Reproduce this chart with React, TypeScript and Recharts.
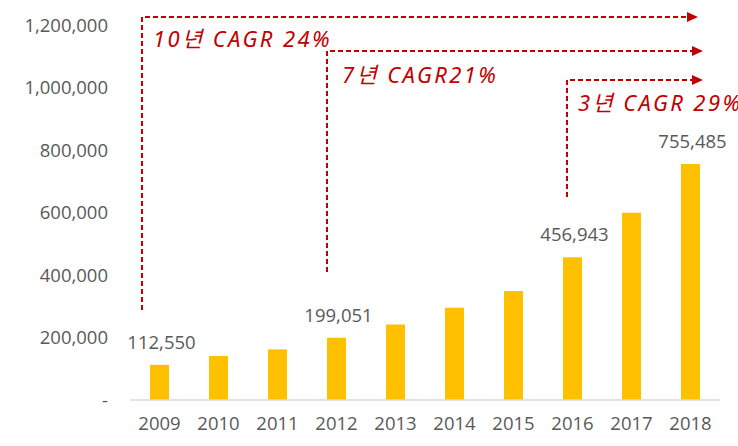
import { BarChart, Bar, XAxis, YAxis, LabelList } from 'recharts';

const years = ['2009', '2010', '2011', '2012', '2013', '2014', '2015', '2016', '2017', '2018'];
const users = [112550, 140800, 162000, 199051, 242000, 295000, 349000, 456943, 599000, 755485];
const labelledYears = ['2009', '2012', '2016', '2018'];
const yTicks = [0, 200000, 400000, 600000, 800000, 1000000, 1200000];

const data = years.map((year, i) => ({ year, value: users[i] }));

const RED = '#C00000';
const GRAY = '#595959';
const FONT = '"Open Sans", "Noto Sans", sans-serif';
const NOTE_FONT = '"Noto Sans", "Noto Sans CJK KR", sans-serif';

// CAGR brackets, in page pixels
const brackets = [
  { x: 142, bottom: 310, top: 17, tip: 698, text: '10년 CAGR 24%', tx: 153, ty: 47 },
  { x: 327, bottom: 272, top: 51, tip: 703, text: '7년 CAGR21%', tx: 342, ty: 83 },
  { x: 567, bottom: 197, top: 80, tip: 703, text: '3년 CAGR 29%', tx: 578, ty: 111 },
];

function ValueLabel(props: any) {
  const { x, y, width, index } = props;
  const row = data[index];
  if (!row || !labelledYears.includes(row.year)) return null;
  return (
    <text
      x={x + width / 2 + 2}
      y={y - 16}
      textAnchor="middle"
      fill={GRAY}
      fontSize={18.5}
      fontFamily={FONT}
    >
      {row.value.toLocaleString('en-US')}
    </text>
  );
}

function Brackets() {
  return (
    <svg
      width={738}
      height={446}
      style={{ position: 'absolute', left: 0, top: 0, pointerEvents: 'none' }}
    >
      {brackets.map((b) => (
        <g key={b.text}>
          <path
            d={`M${b.x},${b.bottom} L${b.x},${b.top} L${b.tip - 10},${b.top}`}
            fill="none"
            stroke={RED}
            strokeWidth={2}
            strokeDasharray="5 3"
          />
          <polygon
            points={`${b.tip - 11},${b.top - 5} ${b.tip},${b.top} ${b.tip - 11},${b.top + 5}`}
            fill={RED}
          />
          <text
            x={b.tx}
            y={b.ty}
            fill={RED}
            fontSize={22}
            fontStyle="italic"
            fontFamily={NOTE_FONT}
            letterSpacing={2.4}
          >
            {b.text}
          </text>
        </g>
      ))}
    </svg>
  );
}

export default function App() {
  return (
    <div style={{ position: 'absolute', left: 0, top: 0, width: 738, height: 446, background: '#fff' }}>
      <BarChart
        width={738}
        height={446}
        data={data}
        margin={{ top: 25, right: 18, left: 0, bottom: 0 }}
      >
        <XAxis
          dataKey="year"
          height={46}
          tickSize={0}
          tickMargin={17}
          axisLine={{ stroke: '#D9D9D9', strokeWidth: 1.5 }}
          tick={{ fill: GRAY, fontSize: 18.5, fontFamily: FONT }}
        />
        <YAxis
          width={130}
          domain={[0, 1200000]}
          ticks={yTicks}
          tickSize={0}
          tickMargin={22}
          axisLine={false}
          tickLine={false}
          tick={{ fill: GRAY, fontSize: 18.5, fontFamily: FONT }}
          tickFormatter={(v: number) => (v === 0 ? '-' : v.toLocaleString('en-US'))}
        />
        <Bar dataKey="value" fill="#FFC000" barSize={19} isAnimationActive={false}>
          <LabelList dataKey="value" content={ValueLabel} />
        </Bar>
      </BarChart>
      <Brackets />
    </div>
  );
}
